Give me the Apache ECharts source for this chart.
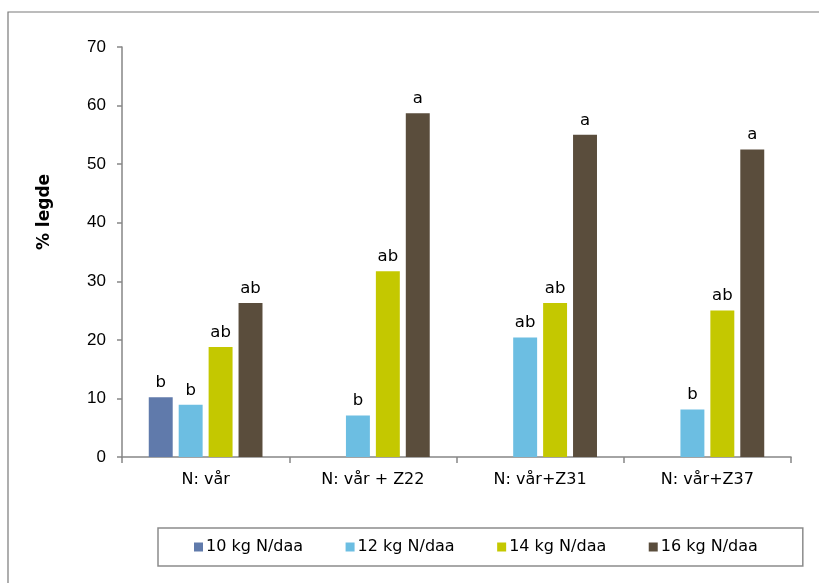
<!DOCTYPE html>
<html>
<head>
<meta charset="utf-8">
<script src="https://cdn.jsdelivr.net/npm/echarts@6/dist/echarts.min.js"></script>
<style>
  html, body { margin: 0; padding: 0; background: #fff; }
  #chart { width: 819px; height: 583px; }
</style>
</head>
<body>
<div id="chart"></div>
<script>
// Lodging (% legde) by nitrogen timing and rate
const categories = ['N: vår', 'N: vår + Z22', 'N: vår+Z31', 'N: vår+Z37'];
const seriesNames = ['10 kg N/daa', '12 kg N/daa', '14 kg N/daa', '16 kg N/daa'];
const values10 = [10.2, null, null, null];
const values12 = [8.9, 7.1, 20.4, 8.1];
const values14 = [18.8, 31.7, 26.3, 25.0];
const values16 = [26.3, 58.7, 55.0, 52.5];
const letters10 = ['b', '', '', ''];
const letters12 = ['b', 'b', 'ab', 'b'];
const letters14 = ['ab', 'ab', 'ab', 'ab'];
const letters16 = ['ab', 'a', 'a', 'a'];
const yTicks = [0, 10, 20, 30, 40, 50, 60, 70];

const colors = ['#607aab', '#6cbee2', '#c4c800', '#5a4d3c'];
const allValues = [values10, values12, values14, values16];
const allLetters = [letters10, letters12, letters14, letters16];

const fontMain = 'DejaVu Sans';

const chart = echarts.init(document.getElementById('chart'), null, { renderer: 'canvas' });

const series = seriesNames.map((name, i) => ({
  name: name,
  type: 'bar',
  data: allValues[i],
  barGap: '25%',
  barCategoryGap: '32%',
  itemStyle: { color: colors[i] },
  label: {
    show: true,
    position: 'top',
    distance: 6,
    color: '#000',
    fontFamily: fontMain,
    fontSize: 16.5,
    formatter: p => allLetters[i][p.dataIndex]
  }
}));

chart.setOption({
  animation: false,
  color: colors,
  grid: { left: 122, right: 28, top: 47, bottom: 126, containLabel: false },
  xAxis: {
    type: 'category',
    data: categories,
    axisLine: { lineStyle: { color: '#868686', width: 1.5 } },
    axisTick: { show: true, length: 6, lineStyle: { color: '#868686', width: 1.5 } },
    axisLabel: { color: '#000', fontFamily: fontMain, fontSize: 16, margin: 15 }
  },
  yAxis: {
    type: 'value',
    min: yTicks[0],
    max: yTicks[yTicks.length - 1],
    interval: 10,
    splitLine: { show: false },
    axisLine: { show: true, lineStyle: { color: '#868686', width: 1.5 } },
    axisTick: { show: true, length: 5, lineStyle: { color: '#868686', width: 1.5 } },
    axisLabel: { color: '#000', fontFamily: 'Liberation Sans', fontSize: 17, margin: 16 }
  },
  legend: {
    data: seriesNames,
    left: 158,
    top: 528,
    padding: [11, 45, 11, 36],
    borderColor: '#8c8c8c',
    borderWidth: 1.5,
    itemWidth: 9,
    itemHeight: 9,
    itemGap: 42.5,
    icon: 'rect',
    textStyle: { color: '#000', fontFamily: fontMain, fontSize: 16, padding: [0, 0, 0, -2] }
  },
  graphic: [
    {
      type: 'rect',
      shape: { x: 8, y: 12, width: 900, height: 700 },
      style: { fill: 'none', stroke: '#7a7a7a', lineWidth: 1.2 },
      silent: true
    },
    {
      type: 'text',
      x: 45,
      y: 212,
      rotation: Math.PI / 2,
      style: {
        text: '% legde',
        fill: '#000',
        font: 'bold 17px "DejaVu Sans"',
        textAlign: 'center',
        textVerticalAlign: 'middle'
      }
    }
  ],
  series: series
});
</script>
</body>
</html>
